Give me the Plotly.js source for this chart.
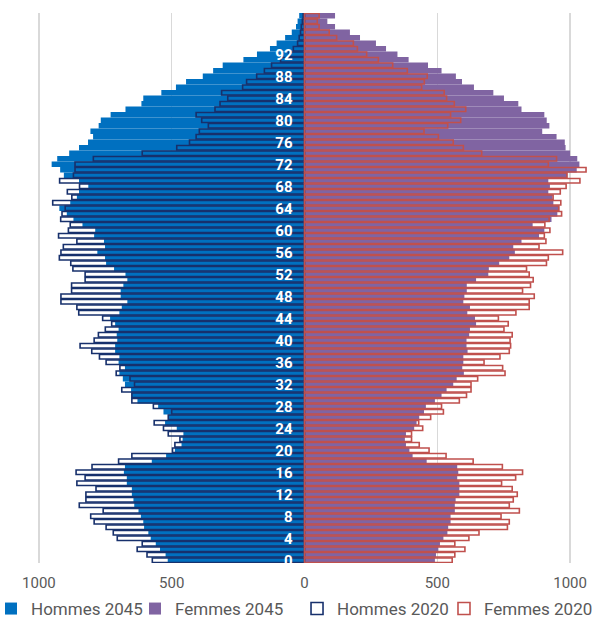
<!DOCTYPE html>
<html>
<head>
<meta charset="utf-8">
<script src="https://cdn.plot.ly/plotly-3.0.1.min.js"></script>
<style>html,body{margin:0;padding:0;background:#fff;}#chart{width:601px;height:629px;}</style>
</head>
<body>
<div id="chart"></div>
<script>
const ages = [0,1,2,3,4,5,6,7,8,9,10,11,12,13,14,15,16,17,18,19,20,21,22,23,24,25,26,27,28,29,30,31,32,33,34,35,36,37,38,39,40,41,42,43,44,45,46,47,48,49,50,51,52,53,54,55,56,57,58,59,60,61,62,63,64,65,66,67,68,69,70,71,72,73,74,75,76,77,78,79,80,81,82,83,84,85,86,87,88,89,90,91,92,93,94,95,96,97,98,99];

const hommes2045 = [515,523,544,560,579,588,604,607,616,625,641,644,650,650,669,669,680,676,575,521,
  488,463,459,456,481,525,513,531,551,629,650,653,676,684,697,676,700,697,713,713,
  705,707,700,713,732,697,688,667,692,692,682,667,674,717,747,751,780,751,755,792,
  788,836,870,895,923,882,857,849,814,849,906,920,952,931,886,849,815,796,806,775,
  767,730,674,614,607,539,484,446,383,344,308,230,179,130,105,73,48,32,26,20];

const femmes2045 = [491,495,504,510,523,538,541,550,550,566,566,569,583,583,583,575,579,575,460,407,
  395,382,378,382,413,422,432,450,457,491,516,535,560,573,600,594,598,598,614,610,
  610,620,623,646,642,613,623,598,602,611,611,646,692,694,733,771,792,786,817,883,
  903,859,930,952,960,937,934,918,924,918,990,1025,1035,1027,1000,983,980,949,895,922,
  912,903,817,805,751,711,638,593,570,516,465,392,350,307,269,209,171,115,86,115];

const hommes2020 = [573,593,630,611,705,720,747,792,805,758,848,823,823,785,857,826,860,800,700,650,
  497,488,469,513,531,566,513,500,569,650,650,688,640,657,709,695,747,772,801,845,
  792,776,750,726,760,850,857,917,917,877,877,826,826,872,880,923,917,908,857,926,
  889,882,918,913,901,948,876,893,847,922,870,864,864,795,611,481,433,408,396,362,
  387,408,337,318,289,312,233,218,180,151,124,90,60,42,26,20,15,12,8,5];

const femmes2020 = [556,566,604,566,619,657,764,771,740,809,771,786,801,782,742,795,821,745,635,533,
  469,432,403,403,445,430,475,523,516,583,610,627,627,652,755,746,676,736,771,776,
  774,782,751,767,730,796,846,846,865,821,851,861,846,836,911,918,972,883,909,903,
  924,905,921,968,957,965,936,963,985,1037,988,1060,918,949,667,598,560,504,450,539,
  588,550,607,564,535,526,441,451,462,387,332,278,234,199,184,121,93,55,48,55];

const ageTickVals = [0,4,8,12,16,20,24,28,32,36,40,44,48,52,56,60,64,68,72,76,80,84,88,92];
const ageTickText = ['0','4','8','12','16','20','24','28','32','36','40','44','48','52','56','60','64','68','72','76','80','84','88','92'];
const xTickVals = [-1000,-500,0,500,1000];
const xTickText = ['1000','500','0','500','1000'];
const seriesNames = ['Hommes 2045','Femmes 2045','Hommes 2020','Femmes 2020'];

const neg = a => a.map(v => -v);

const traces = [
  {type:'bar', orientation:'h', name:seriesNames[0], y:ages, x:neg(hommes2045), width:1, legend:'legend',
   marker:{color:'#0070C0', line:{width:0}}, hoverinfo:'skip'},
  {type:'bar', orientation:'h', name:seriesNames[1], y:ages, x:femmes2045, width:1, legend:'legend2',
   marker:{color:'#8064A2', line:{width:0}}, hoverinfo:'skip'},
  {type:'bar', orientation:'h', name:seriesNames[2], y:ages, x:neg(hommes2020), width:0.82, legend:'legend3',
   marker:{color:'rgba(0,0,0,0)', line:{color:'#17306c', width:1.6}}, hoverinfo:'skip'},
  {type:'bar', orientation:'h', name:seriesNames[3], y:ages, x:femmes2020, width:0.82, legend:'legend4',
   marker:{color:'rgba(0,0,0,0)', line:{color:'#C0504D', width:1.6}}, hoverinfo:'skip'}
];

const legendBase = (x) => ({orientation:'h', xref:'paper', yref:'container', x:x, xanchor:'left',
  y:0.0318, yanchor:'middle', font:{size:17, color:'#595959'}, bgcolor:'rgba(0,0,0,0)', borderwidth:0});

const xr = [-1108.8, 1097.5];
const layout = {
  width:601, height:629,
  margin:{l:10, r:5, t:13, b:66, pad:0, autoexpand:false},
  paper_bgcolor:'#ffffff', plot_bgcolor:'#ffffff',
  barmode:'overlay',
  font:{family:'Roboto, Arial, sans-serif', color:'#595959'},
  xaxis:{range:xr, tickvals:xTickVals, ticktext:xTickText, showgrid:true, gridcolor:'#d9d9d9', gridwidth:1.5,
         zeroline:false, showline:false, ticks:'', ticklabelstandoff:9, automargin:false,
         tickfont:{size:15, color:'#595959'}, fixedrange:true},
  yaxis:{range:[-0.5, 99.5], anchor:'free', position:(0 - xr[0])/(xr[1]-xr[0]), side:'left',
         tickvals:ageTickVals, ticktext:ageTickText, showgrid:false, zeroline:false, showline:false,
         ticks:'', ticklabelstandoff:12, automargin:false,
         tickfont:{size:15, color:'#ffffff', family:'Roboto, Arial, sans-serif', weight:'bold'}, fixedrange:true},
  showlegend:true,
  legend:legendBase(-0.0324),
  legend2:legendBase(0.2133),
  legend3:legendBase(0.4898),
  legend4:legendBase(0.7406)
};

Plotly.newPlot('chart', traces, layout, {displayModeBar:false, staticPlot:true});
</script>
</body>
</html>
